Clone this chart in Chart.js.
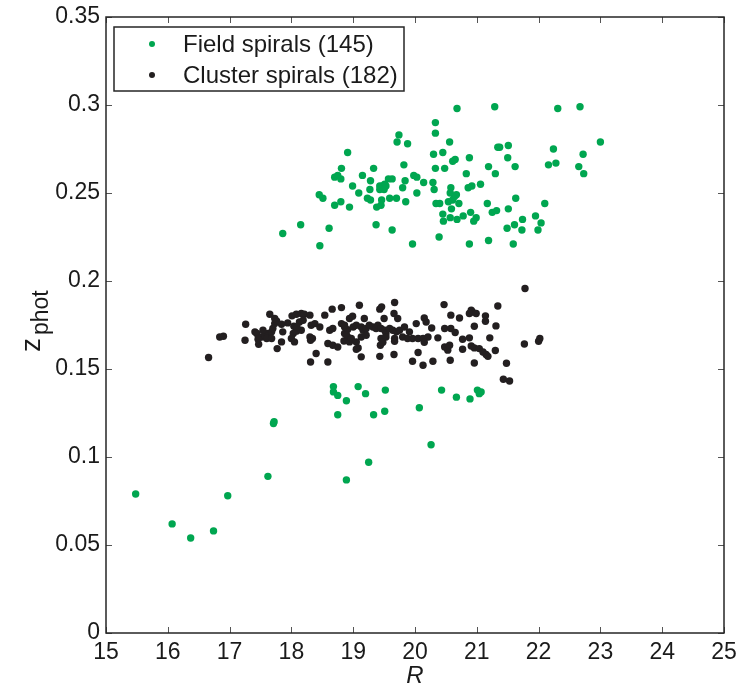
<!DOCTYPE html>
<html>
<head>
<meta charset="utf-8">
<script src="https://cdn.jsdelivr.net/npm/chart.js@4.4.1/dist/chart.umd.min.js"></script>
<style>
  html, body { margin: 0; padding: 0; background: #fff; }
  #wrap { width: 736px; height: 691px; }
</style>
</head>
<body>
<div id="wrap"><canvas id="zphot-chart" width="736" height="691"></canvas></div>
<script>
/* Data */
let seriesNames = [ 'Field spirals (145)', 'Cluster spirals (182)' ]
let seriesColors = [ '#00a650', '#231f20' ]

// field spirals: R magnitude and photometric redshift
let fieldR = [
  20.68,21.29,22.31,22.67,20.33,20.33,19.74,19.71,19.88,20.56,
  23.00,21.34,21.37,21.51,22.24,18.91,20.30,20.45,22.72,20.88,
  20.65,20.61,21.50,19.82,20.33,20.48,21.19,21.62,22.16,22.28,
  22.65,18.81,19.33,20.83,21.30,22.73,19.15,18.80,19.28,19.57,
  19.63,19.84,19.98,20.03,20.14,20.29,18.99,19.43,19.47,19.51,
  19.43,19.50,19.53,19.27,19.80,20.31,20.58,20.86,20.92,21.06,
  19.09,20.03,20.57,20.64,20.67,21.63,22.10,19.23,19.28,19.46,
  19.59,19.70,19.85,18.80,18.94,19.38,19.45,20.34,20.40,20.54,
  20.61,20.71,21.17,20.59,20.45,20.57,20.46,20.68,20.78,20.90,
  20.99,20.95,21.25,21.32,21.51,21.74,21.61,21.95,22.04,21.49,
  21.73,21.99,19.37,19.63,20.39,19.96,20.88,21.19,21.59,18.70,
  18.75,18.45,18.51,18.70,18.15,17.86,18.61,18.46,
  18.68,18.68,18.75,19.08,18.89,18.75,17.71,17.72,17.62,18.89,
  15.48,16.97,16.07,16.74,16.37,19.20,19.52,19.33,19.51,20.07,
  20.43,20.67,20.89,21.01,21.04,21.07,20.26,19.25
]
let fieldZ = [
  0.298,0.299,0.298,0.299,0.290,0.284,0.283,0.279,0.278,0.279,
  0.279,0.276,0.276,0.277,0.275,0.273,0.272,0.273,0.272,0.270,
  0.269,0.268,0.270,0.266,0.264,0.264,0.265,0.265,0.266,0.267,
  0.265,0.264,0.264,0.261,0.261,0.261,0.260,0.258,0.257,0.258,
  0.258,0.257,0.260,0.259,0.256,0.256,0.254,0.254,0.254,0.255,
  0.252,0.252,0.254,0.252,0.253,0.252,0.253,0.253,0.254,0.255,
  0.250,0.250,0.250,0.248,0.249,0.247,0.244,0.247,0.246,0.246,
  0.247,0.247,0.245,0.245,0.242,0.242,0.243,0.244,0.244,0.245,
  0.246,0.244,0.244,0.241,0.238,0.236,0.234,0.235,0.237,0.239,
  0.236,0.234,0.239,0.240,0.241,0.235,0.232,0.237,0.233,0.230,
  0.229,0.229,0.232,0.229,0.225,0.221,0.221,0.223,0.221,0.259,
  0.260,0.249,0.247,0.243,0.232,0.227,0.230,0.220,
  0.140,0.137,0.135,0.140,0.132,0.124,0.119,0.120,0.089,0.087,
  0.079,0.078,0.062,0.058,0.054,0.136,0.138,0.124,0.126,0.128,
  0.138,0.134,0.133,0.138,0.136,0.137,0.107,0.097
]

// cluster spirals
let clusterR = [
  16.66,16.84,16.90,17.26,17.25,17.41,17.44,17.47,17.52,17.57,
  17.62,17.68,17.70,17.73,17.76,17.65,17.73,17.60,17.68,17.77,
  17.84,17.86,17.94,17.84,18.01,18.08,18.16,18.21,18.30,18.03,
  18.08,18.16,18.00,18.05,18.13,18.19,18.32,18.38,18.30,18.34,
  18.31,18.46,18.54,18.66,18.62,18.67,18.40,18.31,18.59,18.59,
  18.67,18.75,18.81,18.81,18.86,18.91,18.94,18.04,18.09,18.86,
  18.91,18.85,18.94,18.99,17.54,17.46,19.10,19.67,19.43,19.46,
  19.18,19.50,19.66,19.72,19.00,19.05,19.13,19.16,19.21,19.26,
  19.32,19.37,19.40,19.45,19.51,19.53,19.59,19.64,19.70,19.75,
  19.83,19.91,20.02,20.15,20.18,20.27,20.47,20.48,20.58,18.89,
  18.97,19.05,19.13,19.21,19.45,19.53,19.67,19.80,19.88,19.96,
  20.05,20.13,20.21,20.37,19.08,19.05,19.44,20.05,20.48,20.53,
  19.13,19.43,19.66,19.96,20.13,20.29,20.57,19.48,20.15,19.67,
  20.65,21.34,20.91,20.93,20.88,20.99,20.72,20.58,21.14,21.14,
  20.96,21.31,20.77,20.88,21.21,20.56,20.77,20.91,20.96,21.04,
  21.10,21.15,21.18,21.30,21.77,22.00,22.02,20.96,21.48,21.78,
  21.43,21.53,18.86
]
let clusterZ = [
  0.1565,0.1682,0.1686,0.1754,0.1663,0.1711,0.1702,0.1641,0.1682,0.1692,
  0.1702,0.1711,0.1730,0.1758,0.1773,0.1811,0.1787,0.1673,0.1673,0.1616,
  0.1654,0.1711,0.1762,0.1754,0.1802,0.1811,0.1815,0.1811,0.1806,0.1702,
  0.1715,0.1720,0.1673,0.1654,0.1767,0.1777,0.1749,0.1758,0.1682,0.1673,
  0.1663,0.1739,0.1806,0.1840,0.1720,0.1730,0.1588,0.1540,0.1540,0.1645,
  0.1635,0.1625,0.1849,0.1758,0.1702,0.1682,0.1787,0.1743,0.1737,0.1739,
  0.1724,0.1659,0.1654,0.1800,0.1720,0.1669,0.1862,0.1878,0.1840,0.1853,
  0.1787,0.1787,0.1815,0.1787,0.1739,0.1749,0.1739,0.1720,0.1730,0.1749,
  0.1739,0.1730,0.1749,0.1730,0.1720,0.1702,0.1730,0.1720,0.1711,0.1720,
  0.1739,0.1711,0.1758,0.1790,0.1767,0.1733,0.1866,0.1730,0.1730,0.1693,
  0.1673,0.1654,0.1682,0.1692,0.1673,0.1682,0.1673,0.1682,0.1673,0.1673,
  0.1673,0.1673,0.1682,0.1677,0.1620,0.1612,0.1635,0.1594,0.1625,0.1607,
  0.1569,0.1572,0.1582,0.1544,0.1521,0.1544,0.1550,0.1652,0.1652,0.1658,
  0.1707,0.1858,0.1834,0.1824,0.1815,0.1815,0.1790,0.1806,0.1802,0.1771,
  0.1743,0.1745,0.1669,0.1677,0.1677,0.1635,0.1612,0.1631,0.1620,0.1616,
  0.1597,0.1582,0.1572,0.1605,0.1642,0.1658,0.1673,0.1534,0.1533,0.1957,
  0.1442,0.1432,0.1749
]

// tick labels
let xTicks = [ 15, 16, 17, 18, 19, 20, 21, 22, 23, 24, 25 ]
let yTicks = [ 0, 0.05, 0.1, 0.15, 0.2, 0.25, 0.3, 0.35 ]

let fontFamily = '"Liberation Sans", Arial, Helvetica, sans-serif'
let textColor = '#1a1a1a'
let axisColor = '#262626'

function toPoints(xs, ys) {
    return xs.map((x, i) => ({ x: x, y: ys[i] }))
}

// box around the plot, with inward ticks on all four sides
let axesBox = {
    id: 'axesBox',
    afterDatasetsDraw(chart) {
        let c = chart.ctx
        let a = chart.chartArea
        let xs = chart.scales.x
        let ys = chart.scales.y
        let tickLen = 6
        c.save()
        c.strokeStyle = '#555'
        c.lineWidth = 1
        c.beginPath()
        xTicks.forEach(v => {
            let px = Math.round(xs.getPixelForValue(v)) + 0.5
            c.moveTo(px, a.bottom); c.lineTo(px, a.bottom - tickLen)
            c.moveTo(px, a.top); c.lineTo(px, a.top + tickLen)
        })
        yTicks.forEach(v => {
            let py = Math.round(ys.getPixelForValue(v)) + 0.5
            c.moveTo(a.left, py); c.lineTo(a.left + tickLen, py)
            c.moveTo(a.right, py); c.lineTo(a.right - tickLen, py)
        })
        c.stroke()
        c.strokeStyle = axisColor
        c.lineWidth = 1.5
        c.strokeRect(a.left, a.top, a.right - a.left, a.bottom - a.top)
        c.restore()
    }
}

// boxed legend in the upper left corner of the plot
let legendBox = {
    id: 'legendBox',
    afterDraw(chart) {
        let c = chart.ctx
        let a = chart.chartArea
        let left = a.left + 8
        let top = a.top + 10
        c.save()
        c.fillStyle = '#fff'
        c.fillRect(left, top, 290, 64)
        c.strokeStyle = axisColor
        c.lineWidth = 1.5
        c.strokeRect(left, top, 290, 64)
        c.font = '24px ' + fontFamily
        c.textBaseline = 'middle'
        chart.data.datasets.forEach((ds, i) => {
            let cy = top + 17 + i * 31
            c.fillStyle = ds.backgroundColor
            c.beginPath()
            c.arc(left + 38, cy, 3, 0, Math.PI * 2)
            c.fill()
            c.fillStyle = textColor
            c.fillText(ds.label, left + 69, cy + 1)
        })
        c.restore()
    }
}

// y title: z with "phot" as subscript, rotated
let yTitle = {
    id: 'yTitle',
    afterDraw(chart) {
        let c = chart.ctx
        c.save()
        c.translate(40, 352)
        c.rotate(-Math.PI / 2)
        c.fillStyle = textColor
        c.textBaseline = 'alphabetic'
        c.font = '28px ' + fontFamily
        c.fillText('z', 0, 0)
        c.font = '23px ' + fontFamily
        c.fillText('phot', 17, 8)
        c.restore()
    }
}

let chartCanvas = document.querySelector('#zphot-chart')
let ctx = chartCanvas.getContext('2d')

let zChart = new Chart(ctx, {
    type: 'scatter',
    data: {
        datasets: [
            {
                label: seriesNames[0],
                data: toPoints(fieldR, fieldZ),
                backgroundColor: seriesColors[0],
                pointRadius: 3.7,
                pointHoverRadius: 3.7,
                pointBorderWidth: 0
            },
            {
                label: seriesNames[1],
                data: toPoints(clusterR, clusterZ),
                backgroundColor: seriesColors[1],
                pointRadius: 3.7,
                pointHoverRadius: 3.7,
                pointBorderWidth: 0
            }
        ]
    },
    options: {
        responsive: false,
        animation: false,
        devicePixelRatio: 1,
        layout: { padding: { left: 0, right: 12, top: 17, bottom: 0 } },
        plugins: {
            legend: { display: false },
            tooltip: { enabled: false }
        },
        scales: {
            x: {
                type: 'linear',
                min: 15,
                max: 25,
                afterBuildTicks: s => { s.ticks = xTicks.map(v => ({ value: v })) },
                afterFit: s => { s.height = 58; s.paddingLeft = 0; s.paddingRight = 0 },
                grid: { display: false, drawTicks: false },
                border: { display: false },
                ticks: { color: textColor, font: { family: fontFamily, size: 23 }, padding: 6, maxRotation: 0 },
                title: {
                    display: true,
                    text: 'R',
                    color: textColor,
                    font: { family: fontFamily, size: 24, style: 'italic' },
                    padding: { top: 0, bottom: 0 }
                }
            },
            y: {
                type: 'linear',
                min: 0,
                max: 0.35,
                afterBuildTicks: s => { s.ticks = yTicks.map(v => ({ value: v })) },
                afterFit: s => { s.width = 106; s.paddingTop = 0; s.paddingBottom = 0 },
                grid: { display: false, drawTicks: false },
                border: { display: false },
                ticks: {
                    color: textColor,
                    font: { family: fontFamily, size: 23 },
                    padding: 6,
                    callback: v => String(+v.toFixed(2))
                }
            }
        }
    },
    plugins: [ axesBox, legendBox, yTitle ]
})
</script>
</body>
</html>
